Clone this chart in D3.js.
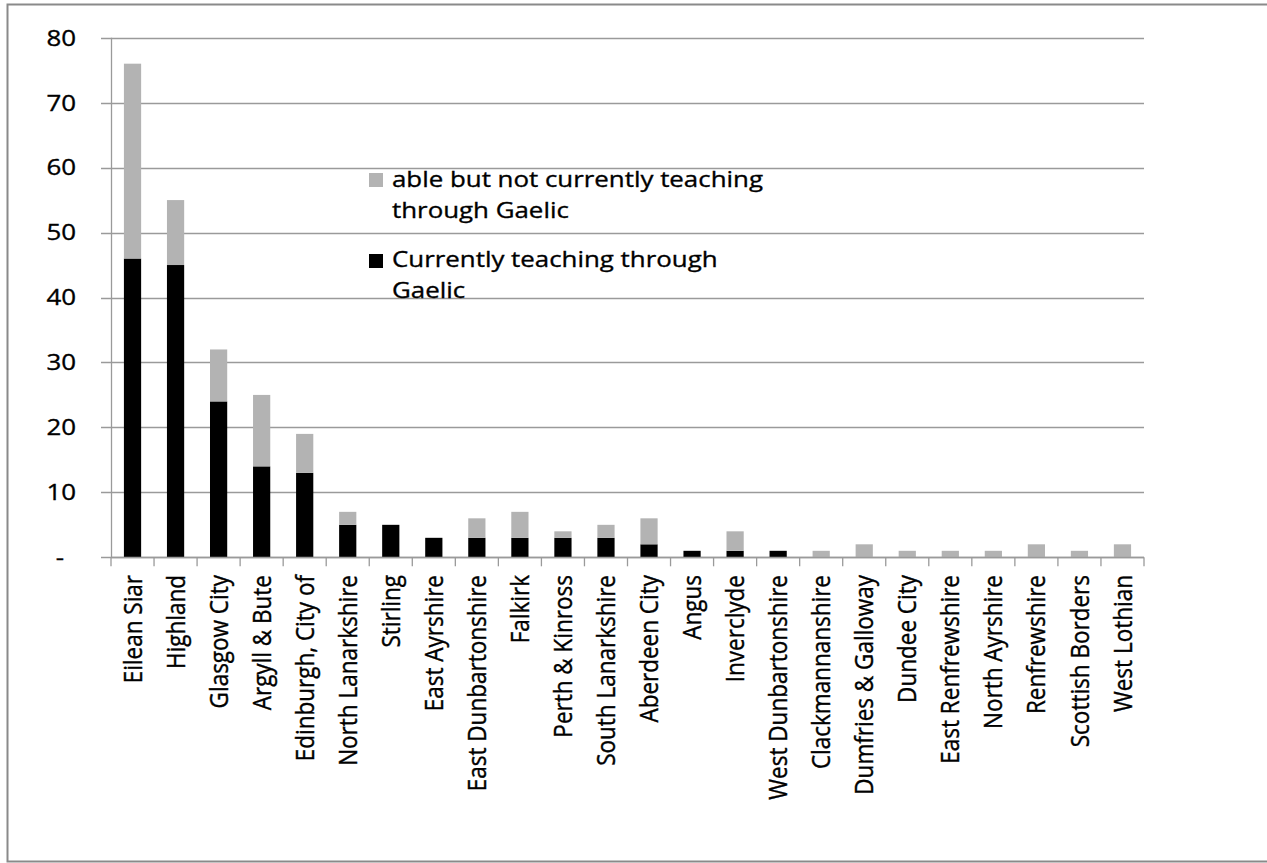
<!DOCTYPE html>
<html>
<head>
<meta charset="utf-8">
<script src="https://cdn.jsdelivr.net/npm/d3@7"></script>
<style>
  html, body { margin: 0; padding: 0; background: #fff; }
  svg { display: block; }
  text { font-family: "Open Sans", "Noto Sans", sans-serif; fill: #000; stroke: #000; stroke-width: 0.35px; }
</style>
</head>
<body>
<svg id="chart" width="1267" height="863"></svg>
<script>
// Gaelic-capable teachers by local authority
const categories = [
  "Eilean Siar", "Highland", "Glasgow City", "Argyll & Bute", "Edinburgh, City of",
  "North Lanarkshire", "Stirling", "East Ayrshire", "East Dunbartonshire", "Falkirk",
  "Perth & Kinross", "South Lanarkshire", "Aberdeen City", "Angus", "Inverclyde",
  "West Dunbartonshire", "Clackmannanshire", "Dumfries & Galloway", "Dundee City",
  "East Renfrewshire", "North Ayrshire", "Renfrewshire", "Scottish Borders", "West Lothian"
];
const currentlyTeaching = [46, 45, 24, 14, 13, 5, 5, 3, 3, 3, 3, 3, 2, 1, 1, 1, 0, 0, 0, 0, 0, 0, 0, 0];
const ableNotTeaching   = [30, 10, 8, 11, 6, 2, 0, 0, 3, 4, 1, 2, 4, 0, 3, 0, 1, 2, 1, 1, 1, 2, 1, 2];
const yTicks = [0, 10, 20, 30, 40, 50, 60, 70, 80];
const seriesNames = ["able but not currently teaching through Gaelic", "Currently teaching through Gaelic"];
const legendLines = [["able but not currently teaching", "through Gaelic"], ["Currently teaching through", "Gaelic"]];

const svg = d3.select("#chart");
const W = 1267, H = 863;
const plot = { left: 111, right: 1144, top: 37.7, bottom: 557.3 };
const STRETCH = 1.15;
const FONT = 22.5;
const gridColor = "#9a9a9a";

// outer frame
svg.append("path")
  .attr("d", `M${W + 5},4.5 H7.5 V861.5 H${W + 5}`)
  .attr("fill", "none").attr("stroke", "#8a8a8a").attr("stroke-width", 2);

const x = d3.scaleBand().domain(categories)
  .range([plot.left, plot.right]).paddingInner(0.6).paddingOuter(0.3);
const y = d3.scaleLinear().domain([0, 80]).range([plot.bottom, plot.top]);

// horizontal gridlines with left ticks
svg.append("g").selectAll("line").data(yTicks).join("line")
  .attr("x1", plot.left - 10).attr("x2", plot.right)
  .attr("y1", d => Math.round(y(d)) + 0.5).attr("y2", d => Math.round(y(d)) + 0.5)
  .attr("stroke", gridColor).attr("stroke-width", 1.3);

// y-axis labels (zero shown as a dash)
svg.append("g").selectAll("text").data(yTicks).join("text")
  .attr("transform", d => `translate(${d === 0 ? 64 : 76},${y(d)}) scale(${STRETCH},1)`)
  .attr("text-anchor", "end").attr("dy", "0.35em")
  .style("font-size", FONT + "px")
  .text(d => d === 0 ? "-" : d);

// y-axis line
svg.append("line")
  .attr("x1", plot.left + 0.5).attr("x2", plot.left + 0.5)
  .attr("y1", plot.top).attr("y2", plot.bottom)
  .attr("stroke", gridColor).attr("stroke-width", 1.3);

// stacked bars
const stackData = categories.map((c, i) => ({ cat: c, current: currentlyTeaching[i], able: ableNotTeaching[i] }));
const stacked = d3.stack().keys(["current", "able"])(stackData);
const colors = { current: "#000000", able: "#b3b3b3" };
svg.append("g").selectAll("g").data(stacked).join("g")
  .attr("fill", s => colors[s.key])
  .selectAll("rect").data(s => s).join("rect")
  .attr("x", d => x(d.data.cat))
  .attr("width", x.bandwidth())
  .attr("y", d => y(d[1]))
  .attr("height", d => y(d[0]) - y(d[1]));

// x-axis baseline and boundary ticks
svg.append("line")
  .attr("x1", plot.left).attr("x2", plot.right)
  .attr("y1", Math.round(y(0)) + 0.5).attr("y2", Math.round(y(0)) + 0.5)
  .attr("stroke", gridColor).attr("stroke-width", 1.3);
const step = x.step();
const boundaries = d3.range(categories.length + 1).map(i => plot.left + i * step);
svg.append("g").selectAll("line").data(boundaries).join("line")
  .attr("x1", d => d).attr("x2", d => d)
  .attr("y1", y(0)).attr("y2", y(0) + 9)
  .attr("stroke", gridColor).attr("stroke-width", 1.3);

// rotated category labels
svg.append("g").selectAll("text").data(categories).join("text")
  .attr("transform", d => `translate(${x(d) + x.bandwidth() / 2},575) scale(${STRETCH},1) rotate(-90)`)
  .attr("text-anchor", "end").attr("dy", "0.35em")
  .style("font-size", FONT + "px")
  .text(d => d);

// legend
const legendItems = [
  { key: "able", name: seriesNames[0], lines: legendLines[0], sq: 173, base: 187 },
  { key: "current", name: seriesNames[1], lines: legendLines[1], sq: 254, base: 267 }
];
const lg = svg.append("g").selectAll("g").data(legendItems).join("g");
lg.append("rect")
  .attr("x", 369).attr("y", d => d.sq).attr("width", 14).attr("height", 14)
  .attr("fill", d => colors[d.key]);
lg.each(function (d) {
  d3.select(this).selectAll("text").data(d.lines).join("text")
    .attr("transform", (t, i) => `translate(392,${d.base + i * 31}) scale(${STRETCH},1)`)
    .style("font-size", FONT + "px")
    .text(t => t);
});
</script>
</body>
</html>
